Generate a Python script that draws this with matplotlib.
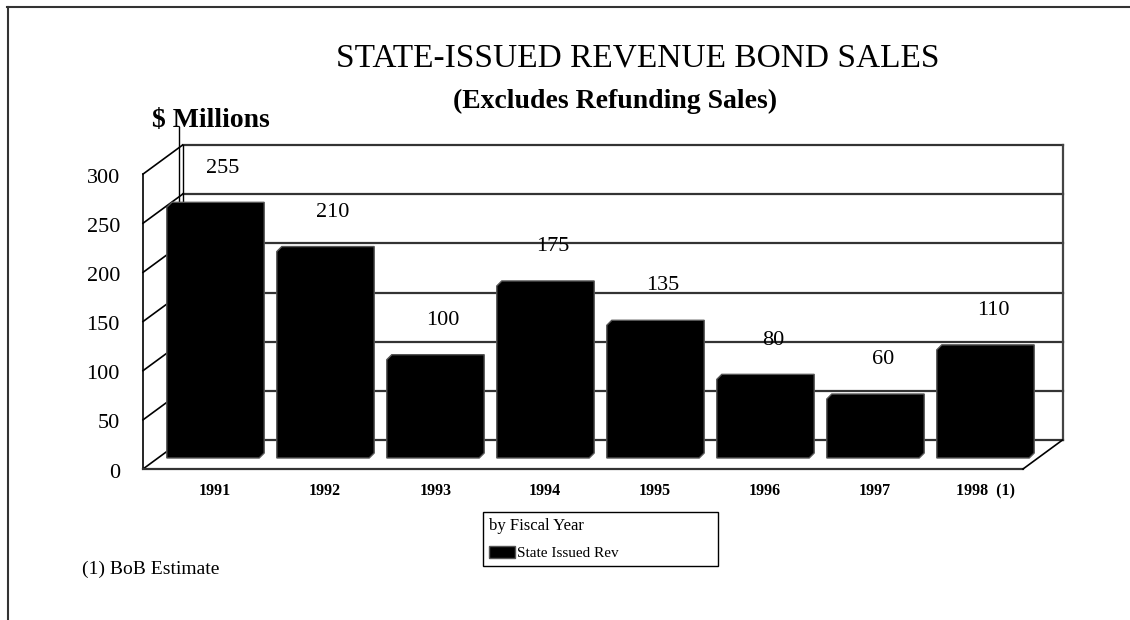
"""
State-issued revenue bond sales, drawn as an old style 3D bar chart.

usage: python plot.py  ->  out.png
"""

import matplotlib.pyplot as plt
from matplotlib.lines import Line2D
from matplotlib.patches import Polygon, Patch

# Data
years = ['1991', '1992', '1993', '1994', '1995', '1996', '1997', '1998  (1)']
sales = [255, 210, 100, 175, 135, 80, 60, 110]
y_ticks = [0, 50, 100, 150, 200, 250, 300]

plt.rcParams['font.family'] = ['Liberation Serif', 'DejaVu Serif']

W, H = 1130, 620
fig = plt.figure(figsize=(W / 100, H / 100), dpi=100)
ax = fig.add_axes([0, 0, 1, 1])

# Data units -> pixels: one category is 110 px, one $M is 0.983 px
X0, UX = 198, 110
Y0, UY = 469, 0.983
ax.set_xlim(-X0 / UX, (W - X0) / UX)
ax.set_ylim((Y0 - H) / UY, Y0 / UY)
ax.axis('off')

# Depth of the 3D box (back wall offset), in data units
ddx, ddy = 39.5 / UX, 29 / UY
xl, xr = -0.5, len(years) - 0.5
ytop = y_ticks[-1]

# Back wall gridlines
for v in y_ticks:
    ax.plot([xl + ddx, xr + ddx], [v + ddy, v + ddy], color='#333333', lw=1.6, zorder=1)
# Back wall edges
ax.plot([xl + ddx, xl + ddx], [ddy, ytop + ddy], color='black', lw=1, zorder=1)
ax.plot([xr + ddx, xr + ddx], [ddy, ytop + ddy], color='#444444', lw=1.6, zorder=1)
# Stray value axis line seen behind the left wall
ax.plot([xl + ddx - 0.036] * 2, [ddy, 348], color='black', lw=1, zorder=1)

# Left wall
ax.plot([xl, xl], [0, ytop], color='black', lw=1.2, zorder=1)
for v in y_ticks:
    ax.plot([xl, xl + ddx], [v, v + ddy], color='black', lw=1.2, zorder=1)

# Floor
ax.plot([xl, xr], [0, 0], color='#333333', lw=1.6, zorder=1)
ax.plot([xr, xr + ddx], [0, ddy], color='black', lw=1.2, zorder=1)

# Bars: black boxes with a small depth of their own
f = 11.2 / ddy          # bars stand a bit inside the floor
sx, sy = f * ddx, f * ddy
hw = 0.42
bdx, bdy = 5 / UX, 5 / UY
for i, v in enumerate(sales):
    x0, x1 = i + sx - hw, i + sx + hw
    b, t = sy, sy + v
    pts = [(x0, b), (x0, t), (x0 + bdx, t + bdy), (x1 + bdx, t + bdy),
           (x1 + bdx, b + bdy), (x1, b)]
    ax.add_patch(Polygon(pts, closed=True, facecolor='black',
                         edgecolor='#555555', lw=1, zorder=3))
    ax.text(i + sx + 0.09, sy + v + 40, str(v), ha='center', va='center',
            fontsize=16, zorder=4)
    ax.text(i + sx + 0.02, -22.4, years[i], ha='center', va='center',
            fontsize=11.5, fontweight='bold')

# Value axis labels
for v in y_ticks:
    ax.text(xl - 0.21, v - 4 / UY, str(v), ha='right', va='center', fontsize=16)

# Titles and notes (figure pixel positions)
def ftext(px, py, s, **kw):
    fig.text(px / W, 1 - py / H, s, **kw)

ftext(638, 58, 'STATE-ISSUED REVENUE BOND SALES', ha='center', va='center',
      fontsize=24)
ftext(615, 101, '(Excludes Refunding Sales)', ha='center', va='center',
      fontsize=20, fontweight='bold')
ftext(152, 120, '$ Millions', ha='left', va='center', fontsize=20, fontweight='bold')
ftext(82, 569, '(1) BoB Estimate', ha='left', va='center', fontsize=14)

# Legend
handle = Patch(facecolor='black', edgecolor='#555555', label='State Issued Rev')
leg = fig.legend(handles=[handle], title='by Fiscal Year', loc='upper left',
                 bbox_to_anchor=(483 / W, 1 - 568 / H, 235 / W, 56 / H),
                 mode='expand', fancybox=False, framealpha=1, edgecolor='black',
                 fontsize=11, title_fontsize=12, alignment='left',
                 handlelength=1.7, handleheight=0.75, handletextpad=0.1,
                 borderpad=0.4, labelspacing=0.8, borderaxespad=0)
leg.get_frame().set_linewidth(1)

# Outer frame (top and left edges only are visible)
fig.add_artist(Line2D([7 / W, 1], [1 - 7 / H, 1 - 7 / H], color='#333333', lw=1.5))
fig.add_artist(Line2D([8 / W, 8 / W], [1 - 7 / H, 0], color='#333333', lw=1.5))

fig.savefig('out.png', dpi=100)
